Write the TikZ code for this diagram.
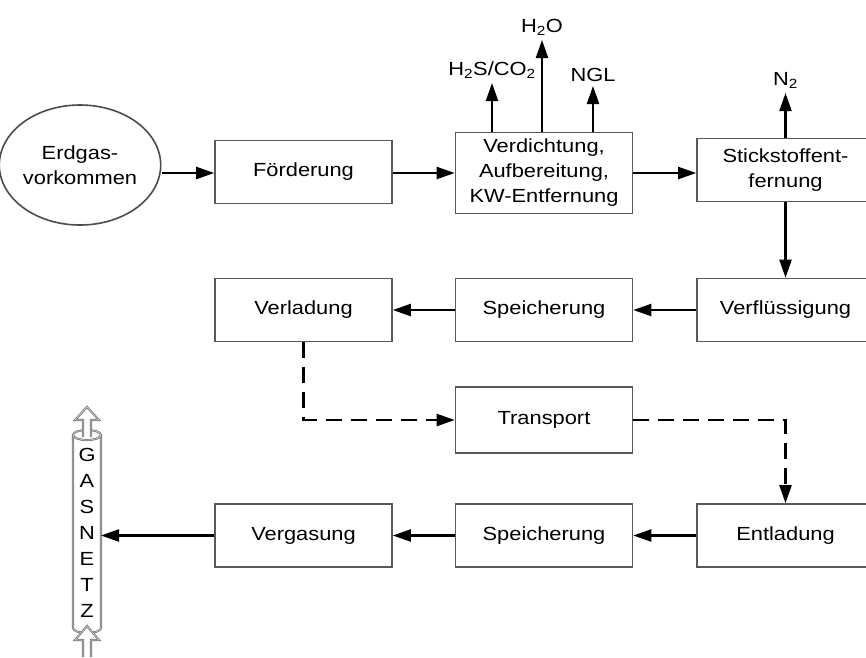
\documentclass[tikz,border=0pt]{standalone}
\usepackage{fontspec}
\setmainfont{Liberation Sans}[FakeStretch=1.15]
\usetikzlibrary{arrows.meta,shapes.geometric}
\begin{document}
\begin{tikzpicture}[x=1pt,y=-1pt,
        font=\fontsize{19}{25}\selectfont,
        box/.style={draw=black!65, line width=1.6pt, minimum width=177pt, minimum height=63pt, align=center},
        arr/.style={line width=2.2pt, -{Triangle[length=18pt,width=12pt]}},
        dasharr/.style={arr, dash pattern=on 16pt off 9pt},
        tubeline/.style={draw=black!55, line width=0.7pt, double=black!20, double distance=0.7pt}]
        \useasboundingbox (0,0) rectangle (866,657);
        \node[draw=black!70, line width=1.6pt, ellipse, minimum width=144pt, minimum height=120pt, inner sep=0pt, align=center] (erdgas) at (80,165) {Erdgas-\\vorkommen};
        \node[box] (foerd) at (303.5,172) {Förderung};
        \node[box, minimum height=81pt] (verd) at (544,173) {Verdichtung,\\Aufbereitung,\\KW-Entfernung};
        \node[box] (stick) at (785.5,170) {Stickstoffent-\\fernung};
        \node[box] (verfl) at (785.5,310) {Verflüssigung};
        \node[box] (speich1) at (544,310) {Speicherung};
        \node[box] (verlad) at (303.5,310) {Verladung};
        \node[box, minimum height=66pt] (transp) at (544,420) {Transport};
        \node[box] (entl) at (785.5,535.5) {Entladung};
        \node[box] (speich2) at (544,535.5) {Speicherung};
        \node[box] (vergas) at (303.5,535.5) {Vergasung};
        \coordinate (h2s) at (492,83);
        \coordinate (h2o) at (542,40);
        \coordinate (ngl) at (593,86);
        \coordinate (n2) at (785.5,93);
        \coordinate (netz) at (101,535.5);
        \draw[arr] (erdgas.east |- verd) -- (foerd.west |- verd);
        \draw[arr] (foerd.east |- verd) -- (verd.west);
        \draw[arr] (verd.east) -- (stick.west |- verd);
        \draw[arr] (verd.north -| h2s) -- (h2s) node[above, inner sep=3pt] (lh2s) {H\textsubscript{2}S/CO\textsubscript{2}};
        \draw[arr] (verd.north -| h2o) -- (h2o) node[above, inner sep=3pt] (lh2o) {H\textsubscript{2}O};
        \draw[arr] (verd.north -| ngl) -- (ngl) node[above, inner sep=3pt] (lngl) {NGL};
        \draw[arr] (stick.north) -- (n2) node[above, inner sep=3pt] (ln2) {N\textsubscript{2}};
        \draw[arr] (stick.south) -- (verfl.north);
        \draw[arr] (verfl.west) -- (speich1.east);
        \draw[arr] (speich1.west) -- (verlad.east);
        \draw[dasharr] (verlad.south) |- (transp.west);
        \draw[dasharr] (transp.east) -| (entl.north);
        \draw[arr] (entl.west) -- (speich2.east);
        \draw[arr] (speich2.west) -- (vergas.east);
        \draw[tubeline, fill=white] (73,435) -- (73,628) arc[start angle=180, end angle=360, x radius=14pt, y radius=5pt] -- (101,435);
        \draw[tubeline] (87,435) ellipse [x radius=14pt, y radius=5pt];
        \draw[tubeline, fill=white] (83,437) -- (83,420) -- (75,420) -- (87,407) -- (99,420) -- (91,420) -- (91,437);
        \draw[tubeline, fill=white] (83,657) -- (83,640) -- (75,640) -- (87,626) -- (99,640) -- (91,640) -- (91,657);
        \foreach \l [count=\i] in {G,A,S,N,E,T,Z}
            \node (netz\i) at (87,429+26*\i) {\l};
        \draw[arr] (vergas.west) -- (netz);
\end{tikzpicture}
\end{document}
